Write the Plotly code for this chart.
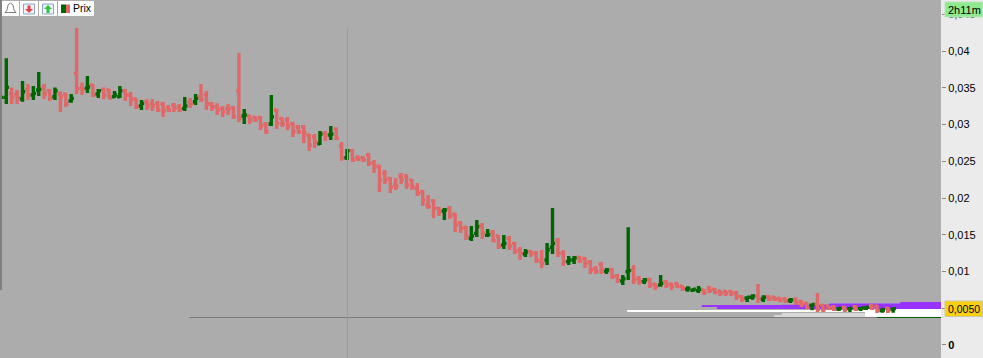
import plotly.graph_objects as go

W, H = 983, 358
PLOT_W = 941

opens = [0.03351,0.03369,0.03424,0.03410,0.03347,0.03478,0.03401,0.03469,0.03505,0.03460,0.03378,0.03415,0.03415,0.03319,0.03696,0.03492,0.03495,0.03537,0.03415,0.03478,0.03469,0.03378,0.03378,0.03460,0.03401,0.03347,0.03251,0.03310,0.03288,0.03288,0.03279,0.03233,0.03265,0.03242,0.03219,0.03310,0.03310,0.03378,0.03401,0.03279,0.03242,0.03220,0.03220,0.03233,0.03460,0.03115,0.03115,0.03097,0.03097,0.03007,0.03007,0.03197,0.03084,0.03061,0.03016,0.02970,0.02970,0.02857,0.02834,0.02737,0.02880,0.02857,
0.02938,0.02707,0.02548,0.02644,0.02553,0.02553,0.02585,0.02471,0.02435,0.02335,0.02267,0.02177,0.02299,0.02299,0.02245,0.02131,0.02086,0.01905,0.01964,0.01859,0.01823,0.01859,0.01782,0.01664,0.01601,0.01451,0.01519,0.01619,0.01492,0.01542,0.01483,0.01360,0.01451,0.01383,0.01292,0.01238,0.01274,0.01256,0.01134,0.01156,0.01329,0.01428,0.01247,0.01134,0.01156,0.01193,0.01179,0.01134,0.01043,0.01102,0.01002,0.01029,0.00943,0.00871,
0.00998,0.01020,0.00907,0.00862,0.00894,0.00830,0.00816,0.00862,0.00830,0.00839,0.00803,0.00758,0.00744,0.00740,0.00749,0.00771,0.00758,0.00735,0.00730,0.00730,0.00712,0.00658,0.00640,0.00649,0.00667,0.00622,0.00658,0.00649,0.00635,0.00631,0.00603,0.00622,0.00594,0.00567,0.00540,0.00558,0.00540,0.00531,0.00522,0.00490,0.00513,0.00495,0.00522,0.00495,0.00504,0.00540,0.00531,0.00467,0.00499,0.00486]
highs = [0.03388,0.03900,0.03505,0.03469,0.03592,0.03551,0.03523,0.03714,0.03551,0.03483,0.03505,0.03451,0.03433,0.03415,0.04313,0.03573,0.03660,0.03551,0.03483,0.03505,0.03483,0.03455,0.03523,0.03483,0.03442,0.03360,0.03333,0.03342,0.03342,0.03319,0.03306,0.03265,0.03292,0.03279,0.03374,0.03360,0.03415,0.03551,0.03455,0.03306,0.03288,0.03251,0.03279,0.03251,0.03972,0.03211,0.03133,0.03115,0.03115,0.03033,0.03401,0.03211,0.03102,0.03102,0.03033,0.02993,0.02993,0.02870,0.02870,0.02911,0.02911,0.02979,
0.02961,0.02762,0.02666,0.02666,0.02580,0.02567,0.02612,0.02517,0.02449,0.02381,0.02285,0.02272,0.02340,0.02326,0.02258,0.02204,0.02109,0.02040,0.01986,0.01877,0.01864,0.01891,0.01796,0.01687,0.01619,0.01619,0.01700,0.01660,0.01578,0.01564,0.01496,0.01496,0.01483,0.01401,0.01333,0.01306,0.01292,0.01279,0.01292,0.01388,0.01864,0.01456,0.01292,0.01211,0.01211,0.01211,0.01197,0.01156,0.01075,0.01129,0.01047,0.01047,0.00966,0.00952,
0.01601,0.01088,0.00939,0.00912,0.00912,0.00844,0.00953,0.00884,0.00844,0.00857,0.00816,0.00799,0.00771,0.00803,0.00762,0.00803,0.00776,0.00749,0.00749,0.00749,0.00735,0.00681,0.00662,0.00690,0.00830,0.00676,0.00676,0.00667,0.00649,0.00649,0.00640,0.00649,0.00613,0.00585,0.00554,0.00708,0.00558,0.00545,0.00545,0.00517,0.00531,0.00517,0.00545,0.00517,0.00526,0.00558,0.00545,0.00508,0.00517,0.00512]
lows = [0.03351,0.03279,0.03279,0.03279,0.03310,0.03333,0.03333,0.03387,0.03347,0.03319,0.03333,0.03170,0.03238,0.03297,0.03415,0.03401,0.03428,0.03374,0.03360,0.03342,0.03347,0.03360,0.03360,0.03319,0.03251,0.03211,0.03197,0.03197,0.03183,0.03170,0.03102,0.03170,0.03170,0.03170,0.03183,0.03224,0.03265,0.03306,0.03197,0.03183,0.03129,0.03102,0.03129,0.03074,0.03033,0.03007,0.03007,0.03033,0.02925,0.02870,0.02979,0.02938,0.02966,0.02925,0.02830,0.02870,0.02748,0.02639,0.02680,0.02721,0.02775,0.02789,
0.02789,0.02508,0.02517,0.02489,0.02503,0.02489,0.02435,0.02340,0.02081,0.02190,0.02068,0.02109,0.02190,0.02122,0.02109,0.02027,0.01891,0.01850,0.01728,0.01755,0.01700,0.01714,0.01537,0.01524,0.01428,0.01415,0.01469,0.01442,0.01469,0.01401,0.01306,0.01306,0.01292,0.01238,0.01156,0.01197,0.01197,0.01115,0.01047,0.01088,0.01238,0.01197,0.01075,0.01088,0.01102,0.01115,0.01047,0.00966,0.00966,0.00966,0.00966,0.00898,0.00843,0.00816,
0.00884,0.00830,0.00816,0.00830,0.00776,0.00749,0.00794,0.00776,0.00749,0.00776,0.00735,0.00726,0.00726,0.00708,0.00681,0.00708,0.00694,0.00667,0.00667,0.00667,0.00613,0.00585,0.00585,0.00617,0.00572,0.00585,0.00599,0.00599,0.00585,0.00572,0.00572,0.00545,0.00513,0.00486,0.00472,0.00449,0.00449,0.00477,0.00463,0.00463,0.00449,0.00449,0.00463,0.00463,0.00477,0.00477,0.00436,0.00440,0.00436,0.00440]
closes = [0.03369,0.03505,0.03369,0.03369,0.03446,0.03401,0.03424,0.03478,0.03415,0.03356,0.03460,0.03378,0.03279,0.03356,0.03492,0.03478,0.03510,0.03401,0.03460,0.03401,0.03356,0.03401,0.03460,0.03401,0.03347,0.03242,0.03288,0.03251,0.03251,0.03197,0.03188,0.03197,0.03220,0.03197,0.03251,0.03279,0.03356,0.03342,0.03279,0.03242,0.03197,0.03174,0.03206,0.03106,0.03084,0.03129,0.03061,0.03061,0.02979,0.02902,0.03106,0.03016,0.03007,0.02979,0.02902,0.02902,0.02889,0.02721,0.02766,0.02870,0.02857,0.02870,
0.02812,0.02548,0.02644,0.02517,0.02526,0.02517,0.02471,0.02426,0.02245,0.02245,0.02145,0.02163,0.02245,0.02177,0.02154,0.02063,0.01973,0.01882,0.01859,0.01814,0.01836,0.01755,0.01632,0.01587,0.01483,0.01483,0.01610,0.01528,0.01501,0.01419,0.01347,0.01383,0.01347,0.01270,0.01247,0.01265,0.01238,0.01156,0.01111,0.01292,0.01383,0.01247,0.01134,0.01156,0.01183,0.01147,0.01111,0.01020,0.00998,0.01029,0.01020,0.00929,0.00884,0.00902,
0.01012,0.00884,0.00862,0.00884,0.00816,0.00794,0.00839,0.00816,0.00794,0.00794,0.00771,0.00771,0.00758,0.00758,0.00712,0.00740,0.00712,0.00703,0.00703,0.00694,0.00658,0.00622,0.00649,0.00667,0.00635,0.00649,0.00622,0.00622,0.00603,0.00599,0.00613,0.00567,0.00545,0.00513,0.00550,0.00486,0.00477,0.00499,0.00486,0.00499,0.00477,0.00499,0.00486,0.00504,0.00513,0.00499,0.00467,0.00477,0.00467,0.00495]

assert len(opens) == len(highs) == len(lows) == len(closes), (len(opens), len(highs), len(lows), len(closes))

tick_values = [0, 0.005, 0.01, 0.015, 0.02, 0.025, 0.03, 0.035, 0.04, 0.045]
tick_labels = ["<b>0</b>", " ", "0,01", "0,015", "0,02", "0,025", "0,03", "0,035", "0,04", "0,045"]

band_starts = [115.8, 129.6, 132.4, 134.6, 144.4, 153.1, 153.1, 166.3, 143.0, 144.4, 159.8]
band_lows = [0.00456, 0.00521, 0.00503, 0.00490, 0.00490, 0.00490, 0.00565, 0.00490, 0.00388, 0.00415, 0.00385]
band_highs = [0.00469, 0.00531, 0.00517, 0.00517, 0.00548, 0.00558, 0.00571, 0.00585, 0.00401, 0.00429, 0.00490]
band_colors = ["#ffffff", "#9933ff", "#9933ff", "#9933ff", "#9933ff", "#9933ff", "#a868f0", "#9933ff", "#d8d8d8", "#d8d8d8", "#ffffff"]
AXIS_END = 173.84

cross_index = 64.09
cross_top = 0.0431
cross_price = 0.00374
cross_start = 34.8
green_start = 162.0

bars = list(range(len(opens)))

fig = go.Figure()
fig.add_trace(go.Bar(
    orientation="h",
    y=[(a + b) / 2 for a, b in zip(band_lows, band_highs)],
    x=[AXIS_END - s for s in band_starts],
    base=band_starts,
    width=[b - a for a, b in zip(band_lows, band_highs)],
    marker=dict(color=band_colors, line=dict(width=0)),
    hoverinfo="skip",
))
fig.add_trace(go.Scatter(x=[cross_start, AXIS_END], y=[cross_price, cross_price], mode="lines",
                         line=dict(color="#7c7c7c", width=1), hoverinfo="skip"))
fig.add_trace(go.Scatter(x=[green_start, AXIS_END], y=[cross_price, cross_price], mode="lines",
                         line=dict(color="#006400", width=1), hoverinfo="skip"))
fig.add_trace(go.Scatter(x=[cross_index, cross_index], y=[-0.002, cross_top], mode="lines",
                         line=dict(color="#dd7f7f", width=1), hoverinfo="skip"))
fig.add_trace(go.Ohlc(
    x=bars, open=opens, high=highs, low=lows, close=closes,
    increasing=dict(line=dict(color="#006400", width=3.4)),
    decreasing=dict(line=dict(color="#e06868", width=3.4)),
    tickwidth=0.5, hoverinfo="skip",
))


def px(x):
    return x / PLOT_W


def py(y):
    return (H - y) / H


def rect(x0, y0, x1, y1, fill, line=None, lw=1):
    fig.add_shape(type="rect", xref="paper", yref="paper", x0=px(x0), x1=px(x1), y0=py(y1), y1=py(y0),
                  fillcolor=fill, line=dict(color=line or fill, width=lw if line else 0), layer="above")


def poly(points, fill, line=None):
    path = "M " + " L ".join(f"{px(a)} {py(b)}" for a, b in points) + " Z"
    fig.add_shape(type="path", xref="paper", yref="paper", path=path, fillcolor=fill,
                  line=dict(color=line or fill, width=1 if line else 0), layer="above")


# left edge strip
rect(0, 0, 2, 290, "#808080")
# toolbar
rect(2, 1, 19, 16, "#ffffff")
rect(20, 1, 38, 16, "#ffffff")
rect(39, 1, 57, 16, "#ffffff")
rect(58, 1, 94, 16, "#ffffff")
poly([(10.5, 3), (13, 5), (14, 10), (16, 12.5), (5, 12.5), (7, 10), (8, 5)], "#ffffff", "#808080")
rect(23.5, 4, 34.5, 14, "#eef3f8", "#8aa6c4")
poly([(27.5, 5.5), (30.5, 5.5), (30.5, 9), (33, 9), (29, 13), (25, 9), (27.5, 9)], "#e8404a")
rect(42.5, 4, 53.5, 14, "#eef3f8", "#8aa6c4")
poly([(48, 5), (52, 9), (49.5, 9), (49.5, 13), (46.5, 13), (46.5, 9), (44, 9)], "#30c040")
rect(61, 4.5, 66, 13, "#006400")
rect(66, 4.5, 70, 13, "#e06868")
fig.add_annotation(xref="paper", yref="paper", x=px(73), y=py(8.5), text="Prix", showarrow=False,
                   xanchor="left", yanchor="middle", font=dict(family="Liberation Sans", size=10.5, color="#000"),
                   borderpad=0, borderwidth=0)
# right-hand boxes
rect(945, 2, 982.5, 17, "#8fe98f", "#b8e8b8")
fig.add_annotation(xref="paper", yref="paper", x=px(964), y=py(10), text="2h11m", showarrow=False,
                   font=dict(family="Liberation Sans", size=11, color="#000"), xanchor="center", yanchor="middle")
rect(945, 301, 982.5, 316.5, "#fccf12", "#c9c9a8")
fig.add_annotation(xref="paper", yref="paper", x=px(964), y=py(309), text="0,0050", showarrow=False,
                   font=dict(family="Liberation Sans", size=10.5, color="#000"), xanchor="center", yanchor="middle")

fig.update_layout(
    width=W, height=H,
    margin=dict(l=0, r=W - PLOT_W, t=0, b=0, pad=0),
    paper_bgcolor="#ebebeb", plot_bgcolor="#acacac",
    showlegend=False, barmode="overlay",
    font=dict(family="Liberation Sans", size=11, color="#000"),
    xaxis=dict(range=[-0.166, AXIS_END], visible=False, rangeslider=dict(visible=False), fixedrange=True),
    yaxis=dict(range=[-0.00177, 0.04694], side="right", showgrid=False, zeroline=False,
               tickmode="array", tickvals=tick_values, ticktext=tick_labels,
               ticks="outside", ticklen=4, tickcolor="#8a8a8a", tickwidth=1, showline=False,
               tickfont=dict(family="Liberation Sans", size=11, color="#000"), fixedrange=True),
)

fig.write_html("out.html", config={"displayModeBar": False},
               post_script="document.body.style.margin='0';document.body.style.overflow='hidden';")
